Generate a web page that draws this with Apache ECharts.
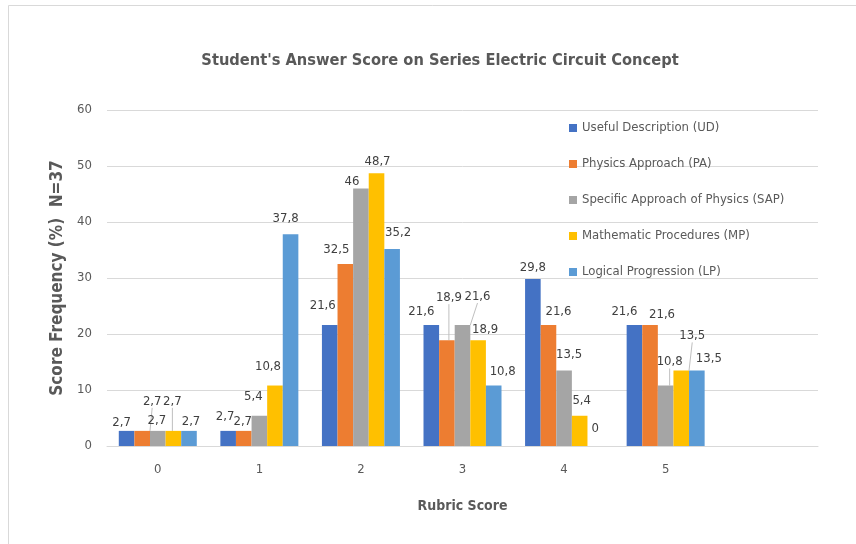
<!DOCTYPE html>
<html>
<head>
<meta charset="utf-8">
<script src="https://cdn.jsdelivr.net/npm/echarts@6/dist/echarts.min.js"></script>
<style>
  html, body { margin: 0; padding: 0; background: #fff; }
  #chart { width: 856px; height: 544px; }
</style>
</head>
<body>
<div id="chart"></div>
<script>
// rubric scores (last slot left empty, as in the original sheet)
const categories = ['0', '1', '2', '3', '4', '5', ''];

const seriesNames = [
    'Useful Description (UD)',
    'Physics Approach (PA)',
    'Specific Approach of Physics (SAP)',
    'Mathematic Procedures (MP)',
    'Logical Progression (LP)'
];

const ud = [2.7, 2.7, 21.6, 21.6, 29.8, 21.6];
const pa = [2.7, 2.7, 32.5, 18.9, 21.6, 21.6];
const sap = [2.7, 5.4, 46, 21.6, 13.5, 10.8];
const mp = [2.7, 10.8, 48.7, 18.9, 5.4, 13.5];
const lp = [2.7, 37.8, 35.2, 10.8, 0, 13.5];

const yTicks = [0, 10, 20, 30, 40, 50, 60];

const colors = ['#4472C4', '#ED7D31', '#A5A5A5', '#FFC000', '#5B9BD5'];
const font = '"Liberation Sans Narrow", "DejaVu Sans Condensed", sans-serif';

// where excel put each data label: [dx from bar centre, px of label centre above bar top]
const labelPos = [
    [[-5, 9], [-3, 15], [-7, 20], [-10, 14], [0, 12], [-10, 14]],
    [[10, 30], [-1, 10], [-9, 15], [2, 43], [10, 14], [12, 11]],
    [[-1, 11], [-6, 20], [-9, 7], [15, 29], [5, 16], [4, 24]],
    [[-1, 30], [-7, 19], [1, 12], [7, 11], [2, 16], [11, 35]],
    [[2, 10], [-5, 16], [6, 17], [9, 14], [0, 18], [12, 12]]
];
// labels that got a leader line
const withLine = { 1: [0, 3], 2: [3, 5], 3: [0, 5] };

function fmt(v) {
    return String(v).replace('.', ',');
}

const allData = [ud, pa, sap, mp, lp];

const series = allData.map(function (vals, s) {
    return {
        name: seriesNames[s],
        type: 'bar',
        barWidth: 15.6,
        barGap: '0%',
        itemStyle: { color: colors[s] },
        label: {
            show: true,
            position: 'top',
            distance: 0,
            fontFamily: font,
            fontSize: 13,
            color: '#404040',
            formatter: function (p) { return fmt(p.value); }
        },
        labelLine: {
            show: false,
            lineStyle: { color: '#bfbfbf', width: 1 }
        },
        labelLayout: function (p) {
            let n = labelPos[s][p.dataIndex];
            if (!n) return {};
            return { dx: n[0], dy: -(n[1] - 7) };
        },
        data: vals.map(function (v, i) {
            let item = { value: v };
            if (withLine[s] && withLine[s].indexOf(i) >= 0) {
                item.labelLine = { show: true };
            }
            return item;
        })
    };
});

let myChart = echarts.init(document.getElementById('chart'));
let option = {
    backgroundColor: '#fff',
    animation: false,
    textStyle: { fontFamily: font },
    title: {
        text: "Student's Answer Score on Series Electric Circuit Concept",
        left: 435,
        textAlign: 'center',
        top: 48,
        textStyle: {
            fontFamily: font,
            fontSize: 16.3,
            fontWeight: 'bold',
            color: '#595959'
        }
    },
    legend: {
        orient: 'vertical',
        left: 564,
        top: 116,
        itemWidth: 8,
        itemHeight: 8,
        itemGap: 22,
        icon: 'rect',
        data: seriesNames,
        textStyle: {
            fontFamily: font,
            fontSize: 13,
            lineHeight: 14,
            color: '#595959'
        }
    },
    grid: {
        left: 107,
        right: 38,
        top: 110,
        bottom: 98
    },
    xAxis: {
        type: 'category',
        data: categories,
        name: 'Rubric Score',
        nameLocation: 'middle',
        nameGap: 53,
        nameTextStyle: {
            fontFamily: font,
            fontSize: 14,
            fontWeight: 'bold',
            color: '#595959'
        },
        axisLine: { lineStyle: { color: '#d9d9d9' } },
        axisTick: { show: false },
        axisLabel: {
            fontSize: 13,
            color: '#595959',
            margin: 17
        }
    },
    yAxis: {
        type: 'value',
        min: yTicks[0],
        max: yTicks[yTicks.length - 1],
        interval: 10,
        name: 'Score Frequency (%)  N=37',
        nameLocation: 'middle',
        nameGap: 36,
        nameTextStyle: {
            fontFamily: font,
            fontSize: 17,
            fontWeight: 'bold',
            color: '#595959'
        },
        axisLine: { show: false },
        axisTick: { show: false },
        axisLabel: {
            fontSize: 13,
            color: '#595959',
            margin: 15
        },
        splitLine: { lineStyle: { color: '#d9d9d9' } }
    },
    graphic: [{
        type: 'rect',
        shape: { x: 8.5, y: 5.5, width: 900, height: 600 },
        style: { fill: 'none', stroke: '#d9d9d9', lineWidth: 1 },
        silent: true
    }],
    series: series
};
myChart.setOption(option);
</script>
</body>
</html>
